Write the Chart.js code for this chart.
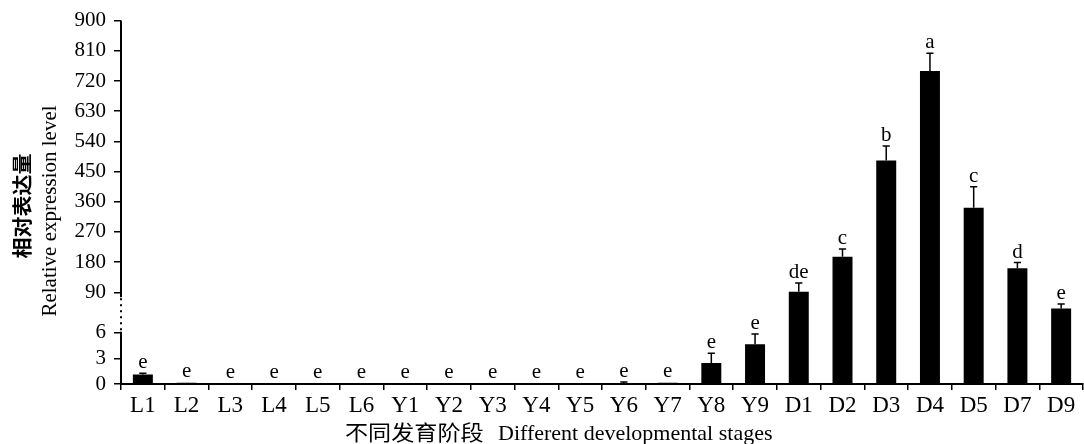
<!DOCTYPE html>
<html>
<head>
<meta charset="utf-8">
<script src="https://cdn.jsdelivr.net/npm/chart.js@4.4.1/dist/chart.umd.min.js"></script>
<style>
  html, body { margin: 0; padding: 0; background: #fff; }
  #wrap { width: 1084px; height: 444px; position: relative; }
</style>
</head>
<body>
<div id="wrap"><canvas id="grafico"></canvas></div>
<script>
// datos
const STAGES = ['L1', 'L2', 'L3', 'L4', 'L5', 'L6', 'Y1', 'Y2', 'Y3', 'Y4', 'Y5', 'Y6', 'Y7', 'Y8', 'Y9', 'D1', 'D2', 'D3', 'D4', 'D5', 'D7', 'D9'];
const EXPRESSION = [1.1, 0.15, 0.12, 0.12, 0.12, 0.12, 0.12, 0.12, 0.1, 0.12, 0.12, 0.12, 0.15, 2.45, 4.67, 92, 196, 483, 750, 342, 162, 42];
const SD = [0.15, 0.05, 0.05, 0.05, 0.05, 0.05, 0.05, 0.05, 0.05, 0.05, 0.05, 0.1, 0.05, 1.15, 1.2, 26, 23, 43, 53, 63, 17, 13];
const LETTERS = ['e', 'e', 'e', 'e', 'e', 'e', 'e', 'e', 'e', 'e', 'e', 'e', 'e', 'e', 'e', 'de', 'c', 'b', 'a', 'c', 'd', 'e'];
const Y_TICKS = [0, 3, 6, 90, 180, 270, 360, 450, 540, 630, 720, 810, 900];

// eje roto: 0..BREAK_AT ocupa LOWER_SHARE de la altura, el resto va hasta max
const BREAK_AT = 7.5;
const LOWER_SHARE = 0.176;

class BrokenAxis extends Chart.LinearScale {
  buildTicks() {
    return Y_TICKS.map(v => ({ value: v }));
  }
  getPixelForValue(value) {
    const h = this.bottom - this.top;
    const low = h * LOWER_SHARE;
    let d;
    if (value <= BREAK_AT) {
      d = value / BREAK_AT * low;
    } else {
      d = low + (value - BREAK_AT) / (this.max - BREAK_AT) * (h - low);
    }
    return this.bottom - d;
  }
  getValueForPixel(pixel) {
    const h = this.bottom - this.top;
    const low = h * LOWER_SHARE;
    const d = this.bottom - pixel;
    if (d <= low) return d / low * BREAK_AT;
    return BREAK_AT + (d - low) / (h - low) * (this.max - BREAK_AT);
  }
}
BrokenAxis.id = 'brokenLinear';
BrokenAxis.defaults = Chart.LinearScale.defaults;
Chart.register(BrokenAxis);

const SERIF = "'Liberation Serif', 'Times New Roman', serif";
const CJK = "'Noto Sans CJK SC', sans-serif";

const extras = {
  id: 'extras',
  afterDatasetsDraw(chart) {
    const ctx = chart.ctx;
    const y = chart.scales.y;
    const meta = chart.getDatasetMeta(0);
    ctx.save();
    ctx.strokeStyle = '#000';
    ctx.fillStyle = '#000';
    ctx.lineWidth = 1.5;
    ctx.font = '21px ' + SERIF;
    ctx.textAlign = 'center';
    ctx.textBaseline = 'alphabetic';
    meta.data.forEach((bar, i) => {
      const base = y.getPixelForValue(EXPRESSION[i]);
      const top = y.getPixelForValue(EXPRESSION[i] + SD[i]);
      if (base - top > 0.8) {
        ctx.beginPath();
        ctx.moveTo(bar.x, base);
        ctx.lineTo(bar.x, top);
        ctx.moveTo(bar.x - 3.6, top);
        ctx.lineTo(bar.x + 3.6, top);
        ctx.stroke();
      }
      ctx.fillText(LETTERS[i], bar.x, top - 5);
    });

    // linea del eje y con el tramo punteado
    const area = chart.chartArea;
    const x0 = area.left;
    const p90 = y.getPixelForValue(90);
    const p6 = y.getPixelForValue(6);
    ctx.lineWidth = 2;
    ctx.beginPath();
    ctx.moveTo(x0, area.top);
    ctx.lineTo(x0, p90 + 5);
    ctx.moveTo(x0, p6 - 1);
    ctx.lineTo(x0, area.bottom);
    ctx.stroke();
    ctx.setLineDash([2, 4]);
    ctx.beginPath();
    ctx.moveTo(x0, p90 + 6);
    ctx.lineTo(x0, p6 - 1);
    ctx.stroke();
    ctx.setLineDash([]);

    // titulos
    ctx.textAlign = 'left';
    ctx.save();
    ctx.translate(345, 440);
    ctx.scale(1.1, 1);
    ctx.font = '21px ' + CJK;
    ctx.fillText('不同发育阶段', 0, 0);
    ctx.restore();
    ctx.font = '22px ' + SERIF;
    ctx.fillText('Different developmental stages', 498, 440);

    ctx.textAlign = 'center';
    ctx.textBaseline = 'middle';
    ctx.save();
    ctx.translate(22, 206);
    ctx.rotate(-Math.PI / 2);
    ctx.scale(1.05, 1);
    ctx.font = 'bold 20px ' + CJK;
    ctx.fillText('相对表达量', 0, 0);
    ctx.restore();
    ctx.save();
    ctx.translate(50, 211);
    ctx.rotate(-Math.PI / 2);
    ctx.font = '21px ' + SERIF;
    ctx.fillText('Relative expression level', 0, 0);
    ctx.restore();
    ctx.restore();
  }
};

const ctx = document.getElementById('grafico').getContext('2d');
new Chart(ctx, {
  type: 'bar',
  data: {
    labels: STAGES,
    datasets: [{
      data: EXPRESSION,
      backgroundColor: '#000',
      borderWidth: 0,
      categoryPercentage: 1,
      barPercentage: 0.457
    }]
  },
  options: {
    responsive: true,
    maintainAspectRatio: false,
    animation: false,
    layout: { padding: { top: 19, right: 1, left: 0, bottom: 0 } },
    plugins: {
      legend: { display: false },
      tooltip: { enabled: false }
    },
    scales: {
      x: {
        offset: true,
        border: { display: true, color: '#000', width: 2 },
        grid: { drawOnChartArea: false, offset: true, tickLength: 6, color: '#000', lineWidth: 1.5 },
        ticks: { color: '#000', padding: 2, maxRotation: 0, autoSkip: false, font: { family: SERIF, size: 23 } },
        afterFit(s) { s.height = 60; }
      },
      y: {
        type: 'brokenLinear',
        min: 0,
        max: 900,
        border: { display: false },
        grid: { drawOnChartArea: false, tickLength: 7, color: '#000', lineWidth: 1.5 },
        ticks: { color: '#000', padding: 8, autoSkip: false, font: { family: SERIF, size: 21 }, callback: v => String(v) },
        afterFit(s) { s.width = 121; }
      }
    }
  },
  plugins: [extras]
});
</script>
</body>
</html>
